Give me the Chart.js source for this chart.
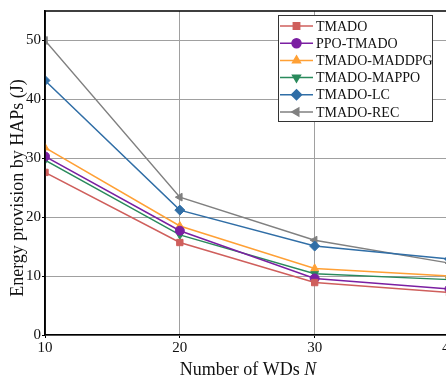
<!DOCTYPE html>
<html>
<head>
<meta charset="utf-8">
<script src="https://cdn.jsdelivr.net/npm/chart.js@4.4.0/dist/chart.umd.min.js"></script>
<style>
  html, body { margin: 0; padding: 0; background: #fff; overflow: hidden; }
  #wrap { width: 458px; height: 377px; }
</style>
</head>
<body>
<div id="wrap"><canvas id="energy" width="458" height="377"></canvas></div>
<script>
// data
const numWDs = [10, 20, 30, 40];
const tmado = [27.6, 15.7, 8.9, 7.2];
const ppoTmado = [30.3, 17.7, 9.6, 7.8];
const tmadoMaddpg = [31.8, 18.5, 11.3, 10.0];
const tmadoMappo = [29.7, 17.0, 10.4, 9.4];
const tmadoLc = [43.2, 21.2, 15.1, 12.9];
const tmadoRec = [50.0, 23.4, 16.1, 12.2];
const yTicks = [0, 10, 20, 30, 40, 50];

const serif = "'Liberation Serif', 'DejaVu Serif', serif";

function series(label, values, color, style, rotation) {
    return {
        label: label,
        data: values.map((v, i) => ({ x: numWDs[i], y: v })),
        borderColor: color,
        backgroundColor: color,
        borderWidth: 1.5,
        pointStyle: style,
        pointRotation: rotation || 0,
        pointRadius: style === 'rectRot' ? 5 : 4.5,
        pointBorderWidth: 1,
        tension: 0
    };
}

const datasets = [
    series('TMADO', tmado, '#cf5f5c', 'rect'),
    series('PPO-TMADO', ppoTmado, '#7b1fa2', 'circle'),
    series('TMADO-MADDPG', tmadoMaddpg, '#ffa035', 'triangle'),
    series('TMADO-MAPPO', tmadoMappo, '#2a8a5c', 'triangle', 180),
    series('TMADO-LC', tmadoLc, '#306ea6', 'rectRot'),
    series('TMADO-REC', tmadoRec, '#808080', 'triangle', -90)
];

// frame, titles and the boxed legend with line + marker
const decorations = {
    id: 'decorations',
    afterDraw(chart) {
        const ctx = chart.ctx;
        const a = chart.chartArea;
        ctx.save();
        ctx.strokeStyle = '#000';
        ctx.lineWidth = 1.5;
        ctx.beginPath();
        ctx.moveTo(a.left, a.bottom);
        ctx.lineTo(a.left, a.top);
        ctx.lineTo(a.right, a.top);
        ctx.lineTo(a.right, a.bottom);
        ctx.stroke();

        // axis titles
        ctx.fillStyle = '#111';
        ctx.font = '18px ' + serif;
        ctx.textBaseline = 'alphabetic';
        const xt1 = 'Number of WDs ';
        ctx.font = '18px ' + serif;
        const w1 = ctx.measureText(xt1).width;
        ctx.font = 'italic 18px ' + serif;
        const w2 = ctx.measureText('N').width;
        const cx = 248;
        let sx = cx - (w1 + w2) / 2;
        ctx.font = '18px ' + serif;
        ctx.textAlign = 'left';
        ctx.fillText(xt1, sx, 375);
        ctx.font = 'italic 18px ' + serif;
        ctx.fillText('N', sx + w1, 375);

        ctx.save();
        ctx.translate(23, 188);
        ctx.rotate(-Math.PI / 2);
        ctx.font = '18px ' + serif;
        ctx.textAlign = 'center';
        ctx.fillText('Energy provision by HAPs (J)', 0, 0);
        ctx.restore();

        // legend
        const lx = 278.5, ly = 15.5, lw = 154, lh = 106;
        ctx.fillStyle = '#fff';
        ctx.fillRect(lx, ly, lw, lh);
        ctx.strokeStyle = '#333';
        ctx.lineWidth = 1;
        ctx.strokeRect(lx, ly, lw, lh);
        ctx.font = '14px ' + serif;
        ctx.textAlign = 'left';
        ctx.textBaseline = 'middle';
        chart.data.datasets.forEach((ds, i) => {
            const y = 26 + i * 17.2;
            ctx.strokeStyle = ds.borderColor;
            ctx.lineWidth = 1.5;
            ctx.beginPath();
            ctx.moveTo(280, y);
            ctx.lineTo(313, y);
            ctx.stroke();
            ctx.fillStyle = ds.backgroundColor;
            Chart.helpers.drawPoint(ctx, {
                pointStyle: ds.pointStyle,
                rotation: ds.pointRotation,
                radius: ds.pointRadius,
                borderWidth: 1
            }, 296.5, y);
            ctx.fillStyle = '#111';
            ctx.fillText(ds.label, 316, y + 1);
        });
        ctx.restore();
    }
};

new Chart(document.getElementById('energy'), {
    type: 'line',
    data: { datasets: datasets },
    options: {
        responsive: false,
        animation: false,
        layout: { padding: { top: 11, left: 0, right: 0, bottom: 0 } },
        plugins: {
            legend: { display: false },
            tooltip: { enabled: false }
        },
        scales: {
            x: {
                type: 'linear',
                min: 10,
                max: 40,
                afterBuildTicks: (s) => { s.ticks = numWDs.map(v => ({ value: v })); },
                afterFit: (s) => { s.height = 42; },
                ticks: { color: '#111', font: { family: serif, size: 15 }, padding: 1, maxRotation: 0 },
                grid: { color: '#a0a0a0', lineWidth: 1, tickColor: '#000', tickLength: 3 },
                border: { color: '#000', width: 1.5 }
            },
            y: {
                min: 0,
                max: 55,
                afterBuildTicks: (s) => { s.ticks = yTicks.map(v => ({ value: v })); },
                afterFit: (s) => { s.width = 45; },
                ticks: { color: '#111', font: { family: serif, size: 15 }, padding: 1 },
                grid: { color: '#a0a0a0', lineWidth: 1, tickColor: '#000', tickLength: 3 },
                border: { color: '#000', width: 1.5 }
            }
        }
    },
    plugins: [decorations]
});
</script>
</body>
</html>
